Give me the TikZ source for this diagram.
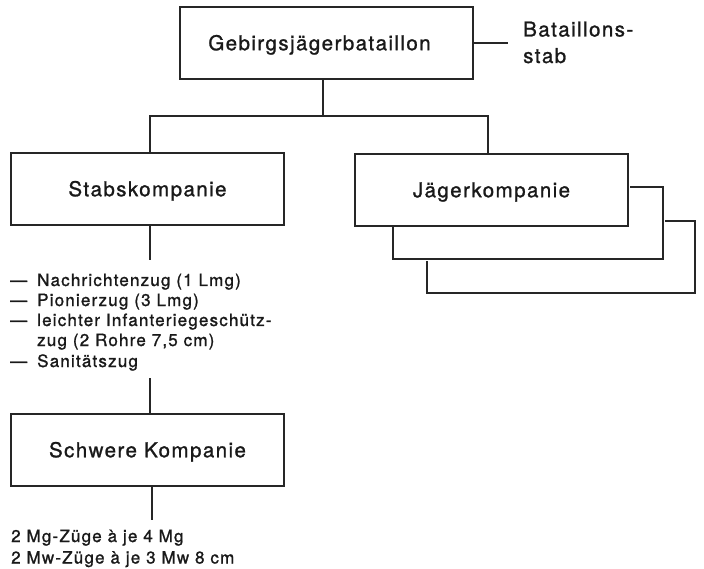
\documentclass[tikz,border=0pt]{standalone}
\usepackage{fontspec}
\setmainfont{TeX Gyre Heros}[LetterSpace=7, FakeBold=1.2]
\begin{document}
\begin{tikzpicture}[x=1pt,y=-1pt,
  every node/.style={inner sep=0pt, text=black!90},
  ln/.style={draw=black!85, line width=1.3pt},
  box/.style={ln, minimum width=273pt, minimum height=72pt,
    font=\fontsize{20.5}{24}\selectfont, text height=14.5pt, text depth=0pt},
  side/.style={font=\fontsize{20.5}{26}\selectfont, anchor=base west},
  txt/.style={font=\fontsize{17}{20}\selectfont, anchor=base west}]
\useasboundingbox (0,0) rectangle (704,569);

% boxes
\node[box, minimum width=293pt] (bat) at (326.5,43) {Gebirgsjägerbataillon\hspace*{14pt}};
\node[box] (stab) at (147.5,189) {Stabskompanie};
\node[box] (jag) at (491.5,190) {Jägerkompanie};
\node[box] (schw) at (147.5,450) {Schwere Kompanie};

% Bataillonsstab
\node[side] (bs1) at (523,36.5) {Bataillons-};
\node[side] (bs2) at (523,63) {stab};
\coordinate (bsl) at (508,43);
\draw[ln] (bat.east) -- (bsl);

% bus
\coordinate (bus) at (323,116);
\coordinate (bl) at (150,116);
\coordinate (br) at (488,116);
\draw[ln] (bat.south -| bus) -- (bus);
\draw[ln] (bl |- stab.north) -- (bl) -- (br) -- (br |- jag.north);

% stacked Jaegerkompanien
\draw[ln] (630,187) -- (663,187) -- (663,259) -- (393,259) -- (393,227);
\draw[ln] (665,221) -- (695,221) -- (695,293) -- (427,293) -- (427,261);

% Stabskompanie list
\coordinate (s1) at (150,260);
\draw[ln] (s1 |- stab.south) -- (s1);
\node[txt] (l1) at (10,286) {\makebox[27pt][l]{—}Nachrichtenzug (1 Lmg)};
\node[txt] (l2) at (10,306) {\makebox[27pt][l]{—}Pionierzug (3 Lmg)};
\node[txt] (l3) at (10,326) {\makebox[27pt][l]{—}leichter Infanteriegeschütz-};
\node[txt] (l4) at (37,346) {zug (2 Rohre 7,5 cm)};
\node[txt] (l5) at (10,367) {\makebox[27pt][l]{—}Sanitätszug};

\coordinate (s2) at (150,378);
\draw[ln] (s2) -- (s2 |- schw.north);

\coordinate (s3) at (152,520);
\draw[ln] (s3 |- schw.south) -- (s3);
\node[txt] (b1) at (11,542) {2 Mg-Züge à je 4 Mg};
\node[txt] (b2) at (11,563.5) {2 Mw-Züge à je 3 Mw 8 cm};
\end{tikzpicture}
\end{document}
